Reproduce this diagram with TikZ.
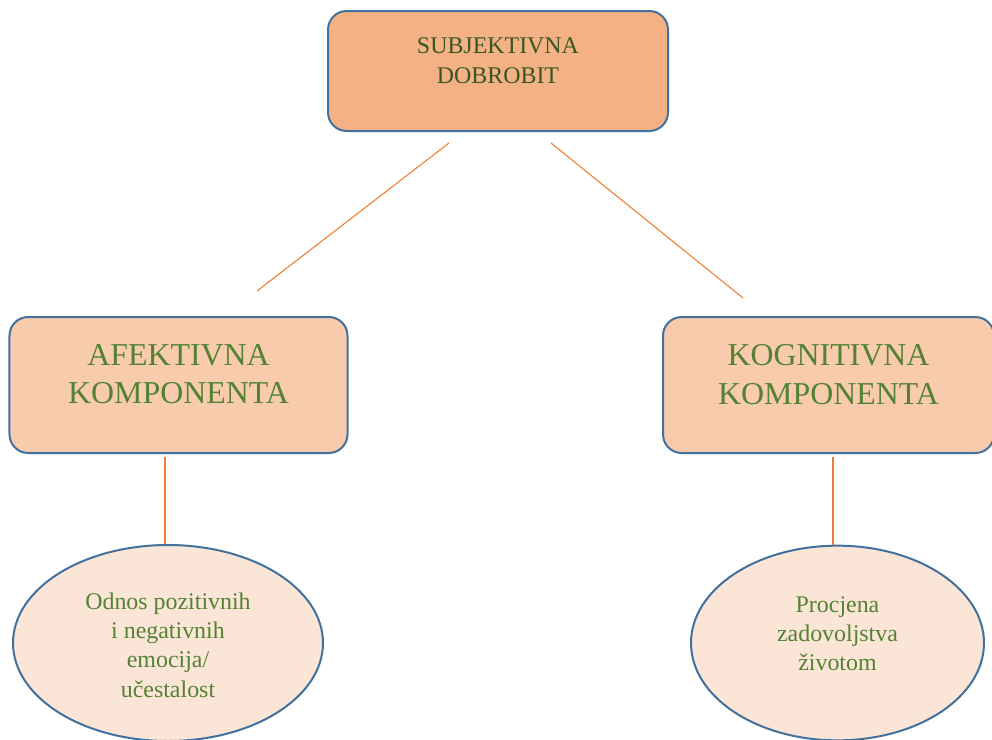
\documentclass[tikz,border=0pt]{standalone}
\usepackage{fontspec}
\setmainfont{Liberation Serif}
\usepackage{xcolor}
\usetikzlibrary{positioning, calc, shapes.geometric}
\definecolor{Border}{RGB}{65, 113, 156}
\definecolor{TopFill}{RGB}{244, 177, 131}
\definecolor{CompFill}{RGB}{248, 203, 173}
\definecolor{OvalFill}{RGB}{251, 229, 214}
\definecolor{Link}{RGB}{237, 125, 49}
\definecolor{DarkGreen}{RGB}{56, 87, 35}
\definecolor{Green}{RGB}{84, 130, 53}

\begin{document}
\begin{tikzpicture}[x=0.75bp, y=-0.75bp,
        box/.style={draw=Border, line width=1.5bp, rounded corners=14bp, inner sep=0pt},
        oval/.style={draw=Border, line width=1.5bp, fill=OvalFill, ellipse, inner sep=0pt},
        link/.style={draw=Link, line width=0.8bp}]
        \useasboundingbox (0, 0) rectangle (992, 740);

        % Subjektivna dobrobit
        \node[box, fill=TopFill, minimum width=255bp, minimum height=90bp] (sd) at (498, 71) {};
        \node[text=DarkGreen, align=center, font=\fontsize{18}{22.5}\selectfont] (sd-txt) at ([yshift=8bp]sd.center) {SUBJEKTIVNA\\DOBROBIT};

        % Afektivna komponenta
        \node[box, fill=CompFill, minimum width=253.5bp, minimum height=102bp] (ak) at (178.5, 385) {};
        \node[text=Green, align=center, font=\fontsize{24}{29}\selectfont] (ak-txt) at ([yshift=8bp]ak.center) {AFEKTIVNA\\KOMPONENTA};

        % Kognitivna komponenta
        \node[box, fill=CompFill, minimum width=248.25bp, minimum height=102bp] (kk) at (828.5, 385) {};
        \node[text=Green, align=center, font=\fontsize{24}{29}\selectfont] (kk-txt) at ([yshift=8bp]kk.center) {KOGNITIVNA\\KOMPONENTA};

        % Ovals
        \node[oval, minimum width=232.5bp, minimum height=147bp] (ae) at (168, 643) {};
        \node[text=Green, align=center, font=\fontsize{18}{22}\selectfont] (ae-txt) at ([yshift=-1.5bp]ae.center) {Odnos pozitivnih\\i negativnih\\emocija/\\učestalost};

        \node[oval, minimum width=219.75bp, minimum height=146bp] (kz) at (837.5, 643) {};
        \node[text=Green, align=center, font=\fontsize{18}{22}\selectfont] (kz-txt) at ([yshift=7bp]kz.center) {Procjena\\zadovoljstva\\životom};

        % Link ends
        \coordinate (sd-l) at (449, 143);
        \coordinate (sd-r) at (551, 143);
        \coordinate (ak-t) at (257, 291);
        \coordinate (kk-t) at (743, 298);
        \coordinate (ak-b) at (165, 457);
        \coordinate (kk-b) at (833, 457);

        % Links
        \draw[link] (sd-l) -- (ak-t);
        \draw[link] (sd-r) -- (kk-t);
        \draw[link, line width=1.1bp] (ak-b) -- (ak-b |- ae.north);
        \draw[link, line width=1.1bp] (kk-b) -- (kk-b |- kz.north);
    \end{tikzpicture}
\end{document}
